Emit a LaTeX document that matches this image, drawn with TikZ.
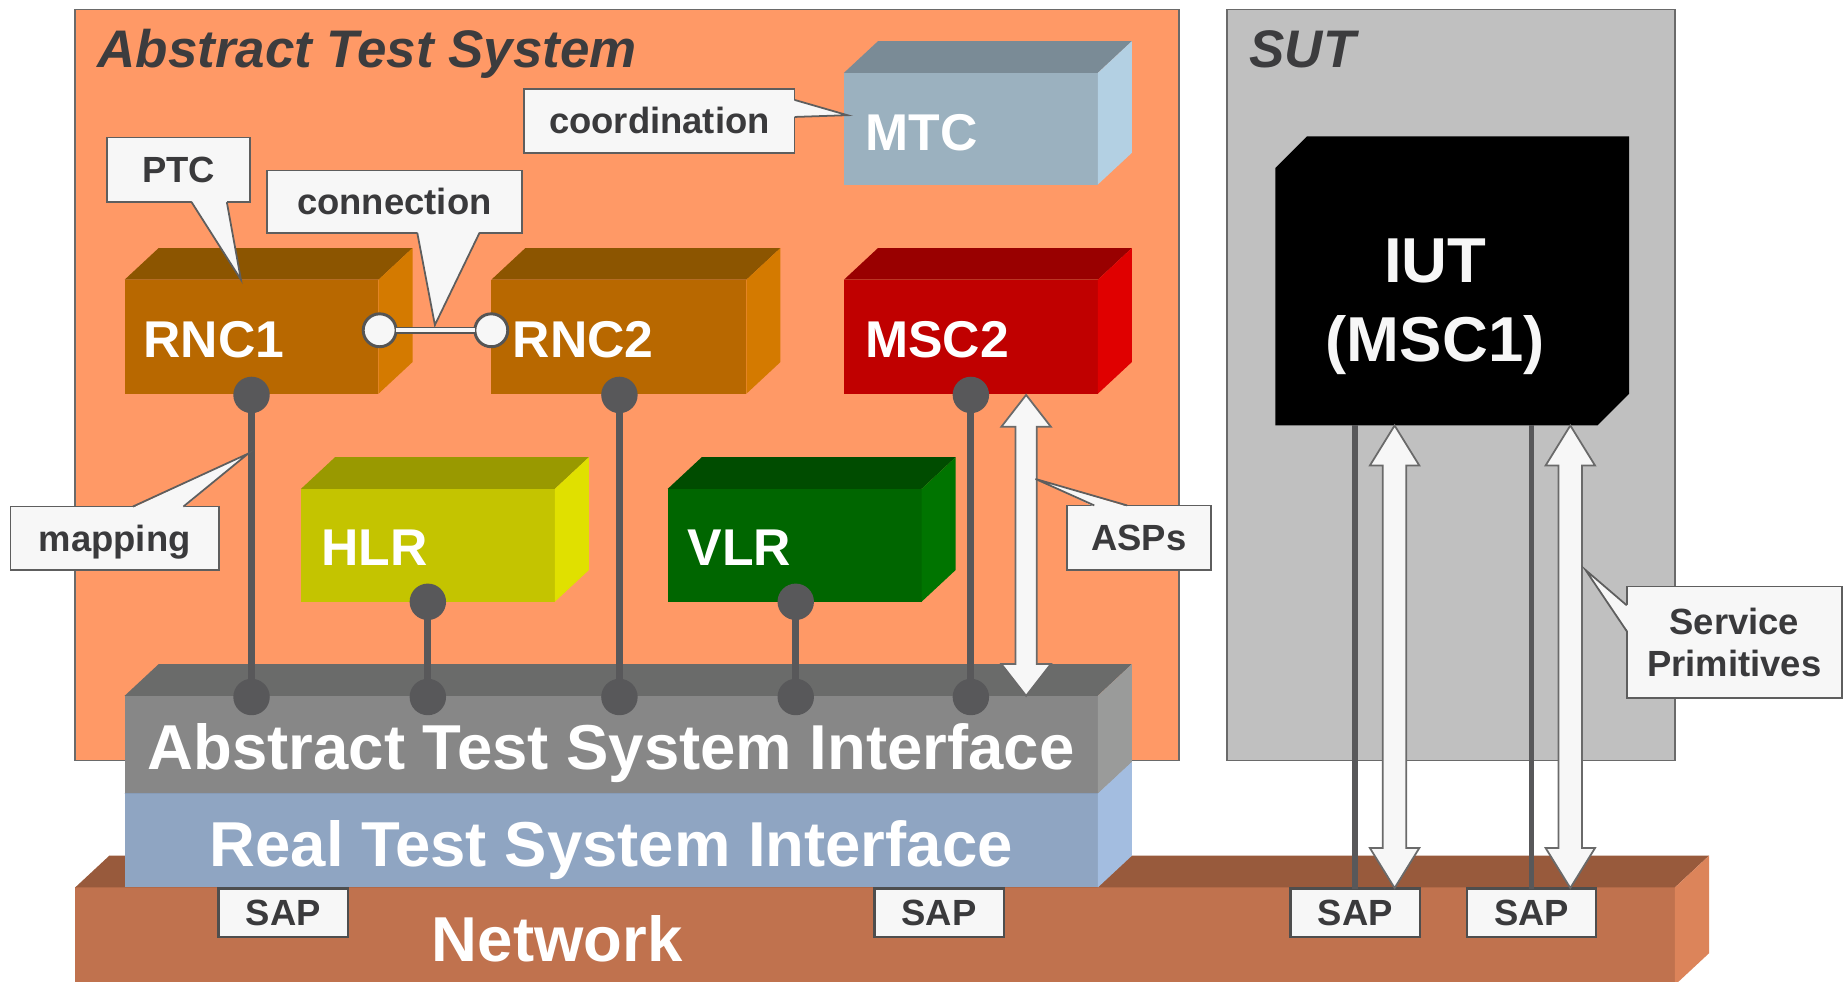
\documentclass[tikz,border=0pt]{standalone}
\usepackage{fontspec}
\setmainfont{Liberation Sans}
\usetikzlibrary{calc}
\definecolor{atsbg}{HTML}{FF9966}
\definecolor{sutbg}{HTML}{C0C0C0}
\definecolor{framegray}{HTML}{6A6A6A}
\definecolor{titlegray}{HTML}{3C3C3E}
\definecolor{callfill}{HTML}{F7F7F7}
\definecolor{callline}{HTML}{5E5E5E}
\definecolor{calltext}{HTML}{3A3A3C}
\definecolor{sapline}{HTML}{4E4E4E}
\definecolor{arrowline}{HTML}{6A6A6A}
\definecolor{ringline}{HTML}{555555}
\definecolor{dotgray}{HTML}{58585A}
\definecolor{rncF}{HTML}{B86800}\definecolor{rncT}{HTML}{8C5500}\definecolor{rncS}{HTML}{D47A00}
\definecolor{mscF}{HTML}{C00000}\definecolor{mscT}{HTML}{990000}\definecolor{mscS}{HTML}{E00000}
\definecolor{mtcF}{HTML}{9BB1BF}\definecolor{mtcT}{HTML}{7A8B96}\definecolor{mtcS}{HTML}{B3D0E3}
\definecolor{hlrF}{HTML}{C4C400}\definecolor{hlrT}{HTML}{999900}\definecolor{hlrS}{HTML}{E0E000}
\definecolor{vlrF}{HTML}{006600}\definecolor{vlrT}{HTML}{004C00}\definecolor{vlrS}{HTML}{007400}
\definecolor{atsiF}{HTML}{878787}\definecolor{atsiT}{HTML}{6A6B6A}\definecolor{atsiS}{HTML}{9A9B9A}
\definecolor{rtsiF}{HTML}{8FA5C2}\definecolor{rtsiT}{HTML}{7A8DA8}\definecolor{rtsiS}{HTML}{A3BDE0}
\definecolor{netF}{HTML}{C0724E}\definecolor{netT}{HTML}{985A3C}\definecolor{netS}{HTML}{DC845A}

% #1 name, #2 x, #3 y, #4 width, #5 height, #6 front, #7 top, #8 side
\newcommand{\mycuboid}[8]{%
  \node[frontface, fill=#6, minimum width=#4pt, minimum height=#5pt] (#1) at (#2,#3) {};
  \fill[#7] (#1.north west) -- ++(29,-27) -- ++(#4,0) -- (#1.north east) -- cycle;
  \fill[#8] (#1.north east) -- ++(29,-27) -- ++(0,#5) -- (#1.south east) -- cycle;
}
% #1 top coord, #2 bottom coord, #3 shaft half width, #4 head half width, #5 head length
\newcommand{\fatdbl}[5]{%
  \draw[fatarrow] (#1) -- ($(#1)+(#4,#5)$) -- ($(#1)+(#3,#5)$) -- ($(#2)+(#3,-#5)$)
    -- ($(#2)+(#4,-#5)$) -- (#2) -- ($(#2)+(-#4,-#5)$) -- ($(#2)+(-#3,-#5)$)
    -- ($(#1)+(-#3,#5)$) -- ($(#1)+(-#4,#5)$) -- cycle;
}

\begin{document}
\begin{tikzpicture}[x=1pt,y=-1pt,
  panel/.style={draw=framegray, line width=1.5pt, anchor=north west, inner sep=0pt, outer sep=0pt},
  frontface/.style={draw=none, anchor=north west, inner sep=0pt, outer sep=0pt},
  titletext/.style={text=titlegray, font=\fontsize{45}{50}\selectfont\bfseries\itshape, anchor=base west, inner sep=0pt},
  boxlabel/.style={text=white, font=\fontsize{44}{50}\selectfont\bfseries, anchor=base west, inner sep=0pt},
  biglabel/.style={text=white, font=\fontsize{54}{60}\selectfont\bfseries, anchor=base, inner sep=0pt},
  callbox/.style={draw=callline, fill=callfill, line width=1.5pt, anchor=north west, inner sep=0pt, outer sep=0pt, text=calltext, font=\fontsize{31}{36}\selectfont\bfseries, text height=22pt, text depth=0pt},
  callboxtwo/.style={draw=callline, fill=callfill, line width=1.5pt, anchor=north west, inner sep=0pt, outer sep=0pt, text=calltext, font=\fontsize{31}{36}\selectfont\bfseries, align=center},
  ptrline/.style={draw=callline, line width=1.5pt, line join=miter},
  sapbox/.style={draw=sapline, fill=callfill, line width=2pt, anchor=north west, inner sep=0pt, outer sep=0pt, minimum width=110pt, minimum height=41pt, text=calltext, font=\fontsize{31}{36}\selectfont\bfseries, text height=22pt, text depth=0pt},
  dotc/.style={circle, fill=dotgray, minimum size=31pt, inner sep=0pt, outer sep=0pt},
  link/.style={draw=dotgray, line width=6pt},
  sutline/.style={draw=dotgray, line width=5pt},
  fatarrow/.style={fill=callfill, draw=arrowline, line width=1.5pt, line join=miter},
  ring/.style={circle, draw=ringline, line width=2.5pt, fill=callfill, minimum size=28pt, inner sep=0pt, outer sep=0pt},
  iuttext/.style={text=callfill, font=\fontsize{54}{67}\selectfont\bfseries, align=center, inner sep=0pt},
]
\useasboundingbox (0,0) rectangle (1568,835);
\fill[white] (0,0) rectangle (1568,835);

% containers
\node[panel, fill=atsbg, minimum width=939pt, minimum height=639pt] (ats) at (64,8) {};
\node[panel, fill=sutbg, minimum width=381pt, minimum height=639pt] (sut) at (1044,8) {};
\node[titletext] (atstitle) at (83,57.5) {Abstract Test System};
\node[titletext] (suttitle) at (1063,57.5) {SUT};

% layers
\mycuboid{net}{64}{755}{1361}{83}{netF}{netT}{netS}
\mycuboid{rtsi}{106}{675}{828}{80}{rtsiF}{rtsiT}{rtsiS}
\mycuboid{atsi}{106}{592}{828}{83}{atsiF}{atsiT}{atsiS}
\node[biglabel] (atsilbl) at (520,655) {Abstract Test System Interface};
\node[biglabel] (rtsilbl) at (520,737) {Real Test System Interface};
\node[biglabel] (netlbl) at (474,818) {Network};

% components
\mycuboid{mtc}{718}{62}{216}{95}{mtcF}{mtcT}{mtcS}
\mycuboid{rnc1}{106}{238}{216}{97}{rncF}{rncT}{rncS}
\mycuboid{rnc2}{418}{238}{217}{97}{rncF}{rncT}{rncS}
\mycuboid{msc2}{718}{238}{216}{97}{mscF}{mscT}{mscS}
\mycuboid{hlr}{256}{416}{216}{96}{hlrF}{hlrT}{hlrS}
\mycuboid{vlr}{568}{416}{216}{96}{vlrF}{vlrT}{vlrS}
\node[boxlabel] (mtclbl) at (736,128) {MTC};
\node[boxlabel] (rnc1lbl) at (122,304) {RNC1};
\node[boxlabel] (rnc2lbl) at (436,304) {RNC2};
\node[boxlabel] (msc2lbl) at (736,304) {MSC2};
\node[boxlabel] (hlrlbl) at (273,481) {HLR};
\node[boxlabel] (vlrlbl) at (585,481) {VLR};

% mapping links
\node[dotc] (d1t) at (214,336) {};
\node[dotc] (d1b) at (214,593) {};
\node[dotc] (d2t) at (527,336) {};
\node[dotc] (d2b) at (527,593) {};
\node[dotc] (d3t) at (826,336) {};
\node[dotc] (d3b) at (826,593) {};
\node[dotc] (d4t) at (364,512) {};
\node[dotc] (d4b) at (364,593) {};
\node[dotc] (d5t) at (677,512) {};
\node[dotc] (d5b) at (677,593) {};
\draw[link] (d1t.center) -- (d1b.center);
\draw[link] (d2t.center) -- (d2b.center);
\draw[link] (d3t.center) -- (d3b.center);
\draw[link] (d4t.center) -- (d4b.center);
\draw[link] (d5t.center) -- (d5b.center);

% ASPs arrow
\coordinate (aspT) at (873,336);
\coordinate (aspB) at (873,592);
\fatdbl{aspT}{aspB}{9}{21}{27}

% SAPs
\node[sapbox] (sap1) at (186,756) {SAP};
\node[sapbox] (sap2) at (744,756) {SAP};
\node[sapbox] (sap3) at (1098,756) {SAP};
\node[sapbox] (sap4) at (1248,756) {SAP};

% IUT
\node[frontface, minimum width=301pt, minimum height=246pt] (iut) at (1085,116) {};
\fill[black] (iut.south west) -- ($(iut.north west)+(0,27)$) -- ($(iut.north west)+(27,0)$)
  -- (iut.north east) -- ($(iut.south east)+(0,-27)$) -- ($(iut.south east)+(-27,0)$) -- cycle;
\node[iuttext] (iutlbl) at (1221,261) {IUT\\(MSC1)};

\draw[sutline] (iut.south -| sap3.north) -- (sap3.north);
\draw[sutline] (iut.south -| sap4.north) -- (sap4.north);
\coordinate (sp1T) at (1186.5,362);
\coordinate (sp1B) at (1186.5,755.5);
\coordinate (sp2T) at (1336,362);
\coordinate (sp2B) at (1336,755.5);
\fatdbl{sp1T}{sp1B}{10}{21}{34}
\fatdbl{sp2T}{sp2B}{10}{21}{34}

% connection
\node[ring] (c1) at (323,281) {};
\node[ring] (c2) at (418,281) {};
\draw[draw=ringline, line width=1.3pt, double=callfill, double distance=3.5pt] (c1.east) -- (c2.west);

% callouts
\node[callbox, minimum width=122pt, minimum height=55pt] (ptc) at (91,117) {PTC};
\coordinate (ptctip) at (205,238);
\fill[callfill] ($(ptc.south west)+(72,-1)$) -- (ptctip) -- ($(ptc.south west)+(102,-1)$) -- cycle;
\draw[ptrline] ($(ptc.south west)+(72,0)$) -- (ptctip) -- ($(ptc.south west)+(102,0)$);

\node[callbox, minimum width=217pt, minimum height=53pt] (conn) at (227,145) {connection};
\coordinate (conntip) at (370,276.5);
\fill[callfill] ($(conn.south west)+(128,-1)$) -- (conntip) -- ($(conn.south west)+(181,-1)$) -- cycle;
\draw[ptrline] ($(conn.south west)+(128,0)$) -- (conntip) -- ($(conn.south west)+(181,0)$);

\node[callbox, minimum width=230pt, minimum height=54pt] (coord) at (446,76) {coordination};
\coordinate (coordtip) at (721,98);
\fill[callfill] ($(coord.north east)+(-1,9)$) -- (coordtip) -- ($(coord.north east)+(-1,23.5)$) -- cycle;
\draw[ptrline] ($(coord.north east)+(0,9)$) -- (coordtip) -- ($(coord.north east)+(0,23.5)$);

\node[callbox, minimum width=177pt, minimum height=54pt] (mapping) at (9,431) {mapping};
\coordinate (maptip) at (211,386);
\fill[callfill] ($(mapping.north west)+(104,1)$) -- (maptip) -- ($(mapping.north west)+(147,1)$) -- cycle;
\draw[ptrline] ($(mapping.north west)+(104,0)$) -- (maptip) -- ($(mapping.north west)+(147,0)$);

\node[callbox, minimum width=122pt, minimum height=55pt] (asps) at (908,430) {ASPs};
\coordinate (aspstip) at (881,407.5);
\fill[callfill] ($(asps.north west)+(23,1)$) -- (aspstip) -- ($(asps.north west)+(51,1)$) -- cycle;
\draw[ptrline] ($(asps.north west)+(23,0)$) -- (aspstip) -- ($(asps.north west)+(51,0)$);

\node[callboxtwo, minimum width=183pt, minimum height=95pt] (sprim) at (1384,499) {Service\\Primitives};
\coordinate (sptip) at (1349,485);
\fill[callfill] ($(sprim.north west)+(1,16)$) -- (sptip) -- ($(sprim.north west)+(1,38)$) -- cycle;
\draw[ptrline] ($(sprim.north west)+(0,16)$) -- (sptip) -- ($(sprim.north west)+(0,38)$);
\end{tikzpicture}
\end{document}
